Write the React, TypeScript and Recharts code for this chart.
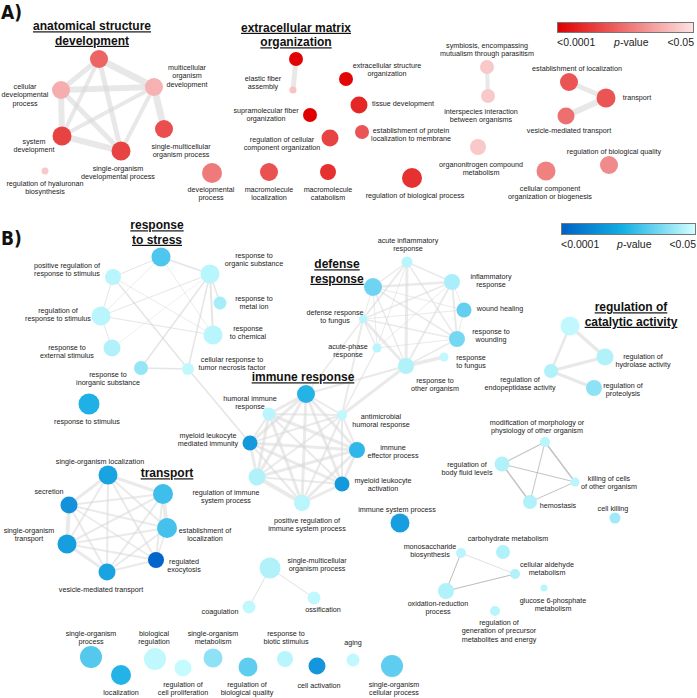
import React from "react";
import { ScatterChart, Scatter, XAxis, YAxis, ReferenceLine } from "recharts";

// node tuples: [id, x, y, radius, shade]; shade 0 = p<0.0001 ... 1 = p<0.05
type Node = [string, number, number, number, number];
type Edge = [string, string, number];
type Label = [string, number, number];

const nodesA: Node[] = [
  ["asd", 99, 59, 9, 0.45],
  ["mod", 154, 87, 9, 0.8],
  ["cdp", 61, 90, 9, 0.78],
  ["sd", 62, 136, 9.5, 0.3],
  ["sodp", 121, 151, 9.5, 0.3],
  ["smop", 164, 129, 9, 0.35],
  ["hya", 45, 171, 3.5, 0.9],
  ["ecm", 296, 59, 7, 0.02],
  ["efa", 293, 90, 3.5, 0.88],
  ["sfo", 310, 115, 7, 0],
  ["rcco", 330, 138, 8.5, 0.3],
  ["dp", 212, 173, 10, 0.55],
  ["ml", 269, 172, 9, 0.37],
  ["mc", 328, 172, 8, 0.22],
  ["eso", 346, 79, 7, 0.03],
  ["td", 359, 105, 8.5, 0.17],
  ["eplm", 362, 132, 7, 0.38],
  ["rbp", 412, 178, 10, 0.22],
  ["sym", 487, 67, 7, 0.9],
  ["ii", 488, 96, 7, 0.9],
  ["onc", 478, 147, 8, 0.9],
  ["eol", 569, 82, 9, 0.38],
  ["tr", 606, 98, 9.5, 0.38],
  ["vmt", 566, 116, 8.5, 0.5],
  ["rbq", 609, 165, 9, 0.62],
  ["ccob", 546, 171, 9.5, 0.58],
];

const nodesB: Node[] = [
  ["rs", 161, 257, 9.5, 0.6],
  ["prrs", 113, 277, 8, 0.93],
  ["ros", 210, 274, 9.5, 0.93],
  ["rmi", 220, 303, 6.5, 0.87],
  ["rrs", 101, 316, 9.5, 0.93],
  ["rc", 213, 335, 9.5, 0.93],
  ["res", 112, 348, 8.5, 0.9],
  ["ris", 141, 368, 7, 0.82],
  ["ctnf", 188, 369, 6, 0.95],
  ["rstim", 89, 404, 10.5, 0.45],
  ["air", 407, 262, 5.5, 0.93],
  ["dr", 373, 287, 9, 0.7],
  ["ir", 452, 282, 8, 0.88],
  ["wh", 464, 310, 7.5, 0.66],
  ["rw", 457, 339, 8, 0.72],
  ["drf", 363, 319, 4, 0.93],
  ["apr", 377, 348, 4.5, 0.93],
  ["rf", 444, 357, 4.5, 0.95],
  ["roo", 406, 366, 8, 0.9],
  ["rca", 570, 326, 9.5, 0.95],
  ["rha", 605, 357, 8.5, 0.9],
  ["rea", 551, 371, 7, 0.9],
  ["rp", 594, 388, 8, 0.8],
  ["irh", 306, 394, 9, 0.47],
  ["hir", 269, 414, 6.5, 0.93],
  ["amr", 342, 415, 5, 0.95],
  ["mlmi", 250, 443, 7.5, 0.32],
  ["iep", 357, 450, 8, 0.5],
  ["risp", 257, 477, 8.5, 0.9],
  ["mla", 342, 484, 7.5, 0.32],
  ["prisp", 302, 503, 8, 0.93],
  ["isp", 400, 523, 9.5, 0.35],
  ["sol", 108, 475, 9.5, 0.38],
  ["sec", 69, 505, 8.5, 0.28],
  ["th", 163, 494, 10, 0.55],
  ["eol2", 167, 528, 10, 0.57],
  ["sot", 67, 544, 9.5, 0.35],
  ["rex", 156, 560, 8, 0.03],
  ["vmt2", 107, 572, 8.5, 0.38],
  ["smop2", 270, 568, 10.5, 0.9],
  ["coag", 249, 607, 6.5, 0.95],
  ["oss", 314, 598, 6.5, 0.95],
  ["mod2", 545, 442, 5, 0.93],
  ["rbfl", 502, 464, 7.5, 0.9],
  ["kco", 575, 482, 4.5, 0.93],
  ["hem", 530, 502, 7, 0.9],
  ["ck", 615, 518, 5.5, 0.85],
  ["ms", 461, 553, 5, 0.93],
  ["cm", 503, 552, 7, 0.9],
  ["ald", 515, 574, 5, 0.9],
  ["g6p", 544, 588, 3.5, 0.93],
  ["ox", 446, 591, 8, 0.9],
  ["rgp", 495, 611, 5, 0.93],
  ["sop", 91, 657, 11, 0.62],
  ["loc", 121, 675, 10, 0.47],
  ["br", 155, 659, 11, 0.95],
  ["rcp", 183, 668, 8.5, 0.97],
  ["som", 213, 658, 9.5, 0.8],
  ["rbq2", 248, 667, 9.5, 0.65],
  ["rbs", 285, 659, 8, 0.93],
  ["ca", 317, 666, 8.5, 0.3],
  ["aging", 353, 660, 6.5, 0.95],
  ["socp", 392, 666, 11, 0.65],
];

const edgesA: Edge[] = [
  ["asd", "mod", 7], ["asd", "cdp", 5], ["asd", "sd", 4], ["asd", "sodp", 5],
  ["cdp", "mod", 6], ["cdp", "sd", 6], ["cdp", "sodp", 5], ["sd", "sodp", 6],
  ["sd", "mod", 4], ["mod", "sodp", 4], ["mod", "smop", 7],
  ["ecm", "efa", 5], ["sym", "ii", 4], ["eol", "tr", 5], ["vmt", "tr", 6],
];

const stressEdges: Edge[] = [
  ["rs", "ros", 1.5], ["rs", "prrs", 1], ["rs", "rrs", 0.8], ["rs", "rc", 0.8],
  ["prrs", "rrs", 1], ["prrs", "ctnf", 1.5], ["prrs", "rc", 0.8], ["ros", "rrs", 1],
  ["ros", "rmi", 1.5], ["ros", "rc", 2], ["ros", "ris", 1.5], ["ros", "ctnf", 1.5],
  ["rrs", "rc", 1], ["rrs", "res", 1], ["ris", "ctnf", 1.5], ["res", "ros", 0.6],
  ["ctnf", "mlmi", 1.5],
];

const defenseEdges: Edge[] = [
  ["air", "dr", 1.5], ["air", "ir", 1.5], ["air", "drf", 2], ["air", "roo", 3],
  ["air", "rw", 1.5], ["air", "apr", 1], ["dr", "ir", 2.5], ["dr", "wh", 1],
  ["dr", "rw", 1.5], ["dr", "drf", 1], ["dr", "roo", 1.5], ["dr", "apr", 1],
  ["ir", "wh", 1], ["ir", "rw", 2], ["ir", "drf", 1.5], ["ir", "roo", 2],
  ["ir", "apr", 1], ["wh", "rw", 1], ["wh", "drf", 1], ["rw", "drf", 1.5],
  ["rw", "roo", 1.5], ["rw", "apr", 1], ["drf", "roo", 3], ["drf", "apr", 1.5],
  ["roo", "rf", 3.5],
  ["amr", "roo", 3], ["amr", "drf", 2], ["irh", "roo", 2], ["amr", "apr", 1.5], ["irh", "drf", 1.5],
];

const immuneEdges: Edge[] = [
  ["irh", "hir", 3], ["irh", "amr", 2], ["irh", "mlmi", 3], ["irh", "iep", 3],
  ["irh", "risp", 3], ["irh", "mla", 3], ["irh", "prisp", 3], ["hir", "amr", 2],
  ["hir", "mlmi", 2], ["hir", "iep", 3], ["hir", "risp", 3], ["hir", "mla", 2],
  ["hir", "prisp", 3], ["amr", "iep", 2], ["amr", "mla", 2], ["amr", "prisp", 2],
  ["amr", "risp", 2], ["amr", "mlmi", 2], ["mlmi", "iep", 3], ["mlmi", "risp", 3],
  ["mlmi", "mla", 3], ["mlmi", "prisp", 2], ["iep", "risp", 3], ["iep", "mla", 3],
  ["iep", "prisp", 3], ["risp", "mla", 2], ["risp", "prisp", 4], ["mla", "prisp", 3],
];

const transportEdges: Edge[] = [
  ["sol", "sec", 3], ["sol", "th", 3], ["sol", "eol2", 2], ["sol", "sot", 2],
  ["sol", "rex", 2], ["sol", "vmt2", 2], ["sec", "th", 2], ["sec", "eol2", 2],
  ["sec", "sot", 4], ["sec", "vmt2", 2], ["sec", "rex", 1.5], ["th", "eol2", 4],
  ["th", "sot", 2], ["th", "rex", 2], ["th", "vmt2", 2], ["eol2", "sot", 2],
  ["eol2", "rex", 1.5], ["eol2", "vmt2", 2], ["sot", "vmt2", 3], ["sot", "rex", 2],
  ["rex", "vmt2", 2],
];

const catalyticEdges: Edge[] = [
  ["rca", "rha", 3.5], ["rca", "rea", 2.5], ["rea", "rha", 3], ["rea", "rp", 3],
];

const fluidEdges: Edge[] = [
  ["mod2", "rbfl", 1.2], ["mod2", "hem", 1], ["mod2", "kco", 1.5],
  ["rbfl", "kco", 1], ["rbfl", "hem", 1.5], ["hem", "kco", 1],
];

const metabolismEdges: Edge[] = [["ms", "ox", 1], ["ox", "ald", 1]];
const faintEdges: Edge[] = [["ms", "ald", 0.8], ["smop2", "coag", 0.8], ["smop2", "oss", 0.8]];

const headersA: Label[] = [
  ["anatomical structure\ndevelopment", 92, 26],
  ["extracellular matrix\norganization", 296, 27.5],
];

const headersB: Label[] = [
  ["response\nto stress", 157, 225],
  ["defense\nresponse", 337, 264],
  ["regulation of\ncatalytic activity", 631, 307],
  ["immune response", 303, 377],
  ["transport", 167, 473],
];

const labelsA: Label[] = [
  ["multicellular\norganism\ndevelopment", 187, 67],
  ["cellular\ndevelopmental\nprocess", 25, 86],
  ["system\ndevelopment", 34, 141],
  ["single-organism\ndevelopmental process", 118, 168],
  ["single-multicellular\norganism process", 181, 146],
  ["regulation of hyaluronan\nbiosynthesis", 45, 183],
  ["elastic fiber\nassembly", 263, 78],
  ["supramolecular fiber\norganization", 266, 110],
  ["regulation of cellular\ncomponent organization", 282, 139],
  ["developmental\nprocess", 211, 189],
  ["macromolecule\nlocalization", 269, 189],
  ["macromolecule\ncatabolism", 328, 189],
  ["extracellular structure\norganization", 387, 65],
  ["tissue development", 403, 103],
  ["establishment of protein\nlocalization to membrane", 411, 130],
  ["regulation of biological process", 415, 195],
  ["symbiosis, encompassing\nmutualism through parasitism", 487, 45],
  ["interspecies interaction\nbetween organisms", 481, 111],
  ["organonitrogen compound\nmetabolism", 481, 164],
  ["establishment of localization", 577, 68],
  ["transport", 637, 97],
  ["vesicle-mediated transport", 569, 130],
  ["regulation of biological quality", 614, 151],
  ["cellular component\norganization or biogenesis", 550, 188],
];

const labelsB: Label[] = [
  ["positive regulation of\nresponse to stimulus", 67, 265],
  ["response to\norganic substance", 254, 255],
  ["response to\nmetal ion", 254, 298],
  ["regulation of\nresponse to stimulus", 58, 310],
  ["response\nto chemical", 248, 328],
  ["response to\nexternal stimulus", 67, 347],
  ["response to\ninorganic substance", 108, 374],
  ["cellular response to\ntumor necrosis factor", 232, 359],
  ["response to stimulus", 87, 421],
  ["acute inflammatory\nresponse", 408, 240],
  ["inflammatory\nresponse", 491, 276],
  ["wound healing", 500, 308],
  ["response to\nwounding", 491, 331],
  ["defense response\nto fungus", 335, 312],
  ["acute-phase\nresponse", 348, 346],
  ["response\nto fungus", 471, 357],
  ["response to\nother organism", 435, 380],
  ["regulation of\nhydrolase activity", 643, 356],
  ["regulation of\nendopeptidase activity", 520, 379],
  ["regulation of\nproteolysis", 623, 385],
  ["humoral immune\nresponse", 250, 398],
  ["antimicrobial\nhumoral response", 381, 416],
  ["myeloid leukocyte\nmediated immunity", 208, 435],
  ["immune\neffector process", 393, 447],
  ["regulation of immune\nsystem process", 226, 492],
  ["myeloid leukocyte\nactivation", 383, 480],
  ["positive regulation of\nimmune system process", 307, 520],
  ["immune system process", 397, 509],
  ["single-organism localization", 100, 461],
  ["secretion", 49, 491],
  ["establishment of\nlocalization", 205, 530],
  ["single-organism\ntransport", 29, 530],
  ["regulated\nexocytosis", 184, 561],
  ["vesicle-mediated transport", 101, 589],
  ["single-multicellular\norganism process", 317, 560],
  ["coagulation", 220, 611],
  ["ossification", 323, 609],
  ["modification of morphology or\nphysiology of other organism", 537, 422],
  ["regulation of\nbody fluid levels", 467, 464],
  ["killing of cells\nof other organism", 609, 478],
  ["hemostasis", 558, 505],
  ["cell killing", 613, 508],
  ["monosaccharide\nbiosynthesis", 430, 546],
  ["carbohydrate metabolism", 508, 538],
  ["cellular aldehyde\nmetabolism", 547, 564],
  ["glucose 6-phosphate\nmetabolism", 553, 600],
  ["oxidation-reduction\nprocess", 438, 603],
  ["regulation of\ngeneration of precursor\nmetabolites and energy", 499, 622],
  ["single-organism\nprocess", 91, 633],
  ["localization", 121, 692],
  ["biological\nregulation", 154, 633],
  ["regulation of\ncell proliferation", 183, 684],
  ["single-organism\nmetabolism", 213, 633],
  ["regulation of\nbiological quality", 247, 684],
  ["response to\nbiotic stimulus", 286, 633],
  ["cell activation", 319, 685],
  ["aging", 353, 642],
  ["single-organism\ncellular process", 394, 684],
];

const FONT = "'Liberation Sans', Arial, Helvetica, sans-serif";

const mix = (a: number[], b: number[], f: number) =>
  `rgb(${a.map((v, i) => Math.round(v + (b[i] - v) * f)).join(",")})`;

const redScale = (t: number) => mix([224, 0, 0], [252, 222, 222], t);
const blueScale = (t: number) =>
  t < 0.45
    ? mix([0, 96, 200], [30, 176, 230], t / 0.45)
    : mix([30, 176, 230], [208, 255, 255], (t - 0.45) / 0.55);

const nodeIndex: Record<string, Node> = Object.fromEntries(
  [...nodesA, ...nodesB].map((n) => [n[0], n])
);

const toPoints = (nodes: Node[], scale: (t: number) => string) =>
  nodes.map(([id, x, y, r, t]) => ({ id, x, y, r, fill: scale(t) }));

const toLabels = (labels: Label[]) => labels.map(([text, x, y]) => ({ text, x, y }));

const NodeShape = (p: any) => (
  <circle cx={p.cx} cy={p.cy} r={p.payload.r} fill={p.payload.fill} />
);

const LabelShape = (p: any) => {
  const lines: string[] = p.payload.text.split("\n");
  return (
    <text x={p.cx} y={p.cy + 2.6} textAnchor="middle" fontSize={7.2} fill="#222" fontFamily={FONT}>
      {lines.map((l, i) => (
        <tspan key={i} x={p.cx} dy={i === 0 ? 0 : 8.7}>{l}</tspan>
      ))}
    </text>
  );
};

const HeaderShape = (p: any) => {
  const lines: string[] = p.payload.text.split("\n");
  return (
    <text x={p.cx} y={p.cy + 4.3} textAnchor="middle" fontSize={12} fontWeight="bold" fill="#111"
      fontFamily={FONT} style={{ textDecoration: "underline" }}>
      {lines.map((l, i) => (
        <tspan key={i} x={p.cx} dy={i === 0 ? 0 : 14.5}>{l}</tspan>
      ))}
    </text>
  );
};

const edgeGroups: { edges: Edge[]; stroke: string; opacity: number }[] = [
  { edges: edgesA, stroke: "#d9d9d9", opacity: 0.6 },
  { edges: stressEdges, stroke: "#d4d4d4", opacity: 0.6 },
  { edges: defenseEdges, stroke: "#d8d8d8", opacity: 0.55 },
  { edges: immuneEdges, stroke: "#d8d8d8", opacity: 0.55 },
  { edges: transportEdges, stroke: "#d8d8d8", opacity: 0.55 },
  { edges: catalyticEdges, stroke: "#d8d8d8", opacity: 0.6 },
  { edges: fluidEdges, stroke: "#b4b4b4", opacity: 0.8 },
  { edges: metabolismEdges, stroke: "#aaaaaa", opacity: 0.8 },
  { edges: faintEdges, stroke: "#d0d0d0", opacity: 0.8 },
];

const ColorBar = ({ left, top, width, height, gradient }: any) => (
  <>
    <div style={{ position: "absolute", left, top, width, height, background: gradient, border: "1px solid #777", boxSizing: "border-box" }} />
    <div style={{ position: "absolute", left, top: top + height + 3, width, fontFamily: FONT, fontSize: 10.5, color: "#222", display: "flex", justifyContent: "space-between" }}>
      <span>&lt;0.0001</span>
      <span><i>p</i>-value</span>
      <span>&lt;0.05</span>
    </div>
  </>
);

const panelTag: React.CSSProperties = {
  position: "absolute",
  left: 1,
  fontFamily: "'Liberation Sans Narrow', 'DejaVu Sans Condensed', sans-serif",
  fontWeight: "bold",
  fontSize: 19,
  color: "#111",
  lineHeight: "20px",
};

export default function App() {
  return (
    <div style={{ position: "absolute", left: 0, top: 0, width: 697, height: 698, background: "#fff" }}>
      <ScatterChart width={697} height={698} margin={{ top: 0, right: 0, bottom: 0, left: 0 }}>
        <XAxis type="number" dataKey="x" domain={[0, 697]} allowDataOverflow hide />
        <YAxis type="number" dataKey="y" domain={[0, 698]} allowDataOverflow reversed hide />
        {edgeGroups.map((g, gi) =>
          g.edges.map(([a, b, w], i) => {
            const A = nodeIndex[a];
            const B = nodeIndex[b];
            return (
              <ReferenceLine
                key={`e${gi}-${i}`}
                segment={[{ x: A[1], y: A[2] }, { x: B[1], y: B[2] }]}
                stroke={g.stroke}
                strokeOpacity={g.opacity}
                strokeWidth={w}
                ifOverflow="visible"
              />
            );
          })
        )}
        <Scatter data={toPoints(nodesA, redScale)} shape={NodeShape} isAnimationActive={false} />
        <Scatter data={toPoints(nodesB, blueScale)} shape={NodeShape} isAnimationActive={false} />
        <Scatter data={toLabels([...labelsA, ...labelsB])} shape={LabelShape} isAnimationActive={false} />
        <Scatter data={toLabels([...headersA, ...headersB])} shape={HeaderShape} isAnimationActive={false} />
      </ScatterChart>
      <div style={{ ...panelTag, top: 2 }}>A)</div>
      <div style={{ ...panelTag, top: 228 }}>B)</div>
      <ColorBar left={557} top={22} width={137} height={11} gradient="linear-gradient(to right, #df0000, #f07070 50%, #fde2e2)" />
      <ColorBar left={561} top={223} width={135} height={12} gradient="linear-gradient(to right, #0062c6, #12aee3 45%, #d2ffff)" />
    </div>
  );
}
